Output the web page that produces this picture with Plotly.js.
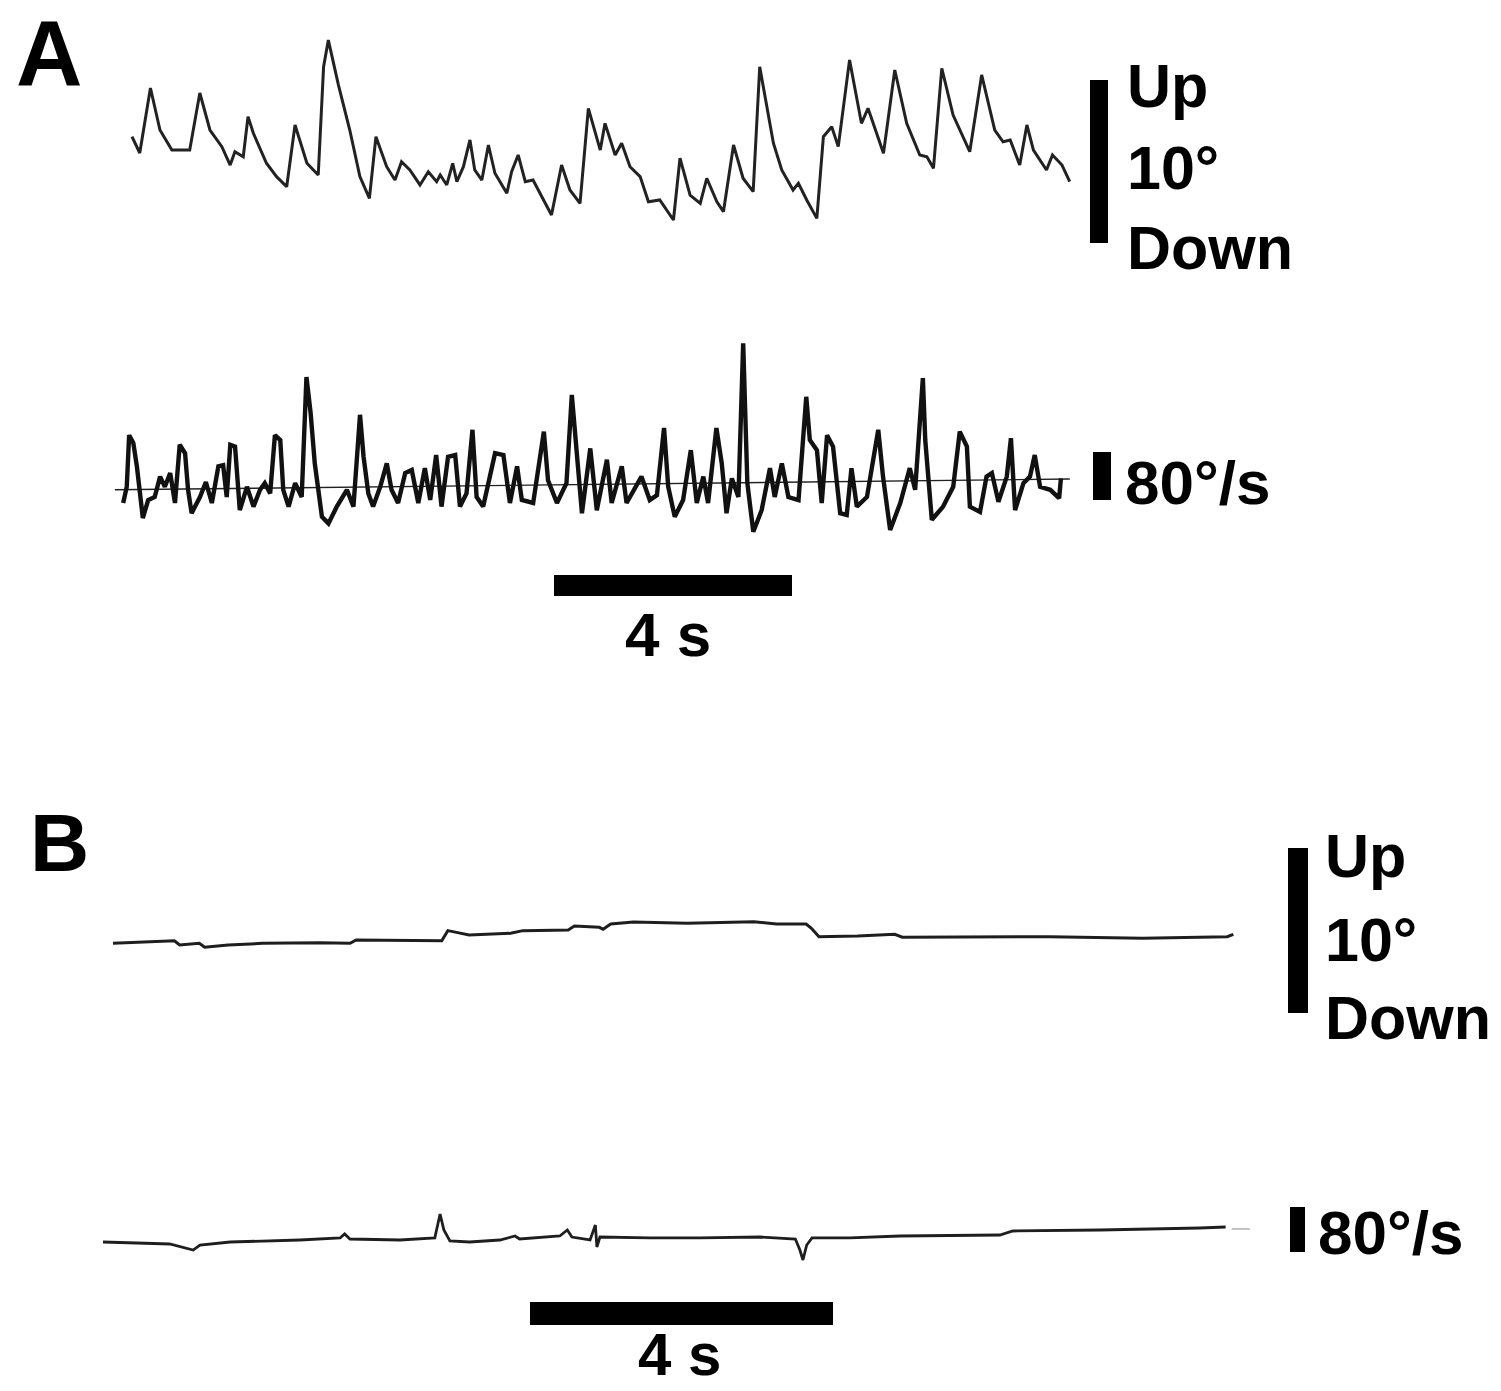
<!DOCTYPE html>
<html><head><meta charset="utf-8">
<script src="https://cdn.plot.ly/plotly-3.0.1.min.js"></script>
<style>html,body{margin:0;padding:0;background:#fff}#chart{width:1501px;height:1391px}</style>
</head><body><div id="chart"></div>
<script>
// ---------- DATA ----------
// Panel A, vertical eye position (time s, degrees)
const aPosT = [0.00,0.13,0.31,0.47,0.67,0.97,1.14,1.31,1.51,1.65,
  1.73,1.87,1.95,2.04,2.26,2.43,2.60,2.74,2.94,3.13,
  3.22,3.30,3.47,3.66,3.83,3.99,4.10,4.28,4.42,4.53,
  4.67,4.84,4.98,5.12,5.18,5.29,5.39,5.46,5.57,5.68,
  5.76,5.88,5.99,6.10,6.30,6.38,6.49,6.61,6.74,6.91,
  7.05,7.22,7.36,7.53,7.67,7.87,7.95,8.12,8.23,8.37,
  8.54,8.68,8.87,9.10,9.21,9.38,9.55,9.66,9.83,9.94,
  10.11,10.27,10.44,10.55,10.78,10.92,11.11,11.20,11.34,11.51,
  11.62,11.76,11.87,12.06,12.26,12.37,12.63,12.82,13.02,13.24,
  13.36,13.47,13.61,13.80,14.08,14.28,14.50,14.64,14.76,14.92,
  15.04,15.15,15.37,15.47,15.63,15.76];
const aPosDeg = [5.11,4.11,8.10,5.52,4.29,4.29,7.79,5.52,4.50,3.37,
  4.19,3.88,6.34,5.32,3.48,2.66,2.04,5.83,3.48,2.76,
  9.40,11.04,8.28,5.52,2.66,1.33,5.11,3.27,2.45,3.58,
  3.07,2.15,2.96,2.35,2.76,2.15,3.48,2.35,3.27,4.91,
  3.07,2.45,4.60,2.87,1.64,2.96,3.99,2.35,2.45,1.23,
  0.31,3.37,1.84,1.02,6.85,4.29,5.93,3.99,4.71,3.27,
  2.66,1.12,1.23,0.00,3.79,1.53,1.02,2.56,1.12,0.51,
  4.60,2.56,1.74,9.40,4.71,3.07,1.84,2.25,1.23,0.10,
  5.11,5.72,4.50,9.82,5.93,6.85,4.09,9.20,5.93,3.99,
  3.88,3.17,9.31,6.44,4.19,8.90,5.52,4.80,4.91,3.37,
  5.83,4.29,3.07,3.99,3.37,2.35];

// Panel A, eye velocity (time s, deg/s)
const aVelT = [0.02,0.08,0.12,0.19,0.25,0.30,0.35,0.44,0.55,0.64,
  0.72,0.81,0.89,0.97,1.06,1.11,1.17,1.31,1.41,1.51,
  1.62,1.70,1.76,1.82,1.90,1.98,2.10,2.21,2.32,2.40,
  2.49,2.57,2.66,2.71,2.80,2.91,3.02,3.10,3.17,3.24,
  3.36,3.47,3.61,3.78,3.89,4.00,4.06,4.14,4.22,4.34,
  4.45,4.53,4.64,4.76,4.87,4.98,5.09,5.18,5.28,5.37,
  5.48,5.60,5.68,5.79,5.89,5.96,6.07,6.27,6.41,6.52,
  6.64,6.72,6.91,7.09,7.16,7.31,7.47,7.56,7.61,7.73,
  7.87,7.98,8.15,8.23,8.40,8.48,8.73,8.87,8.99,9.11,
  9.18,9.29,9.43,9.56,9.66,9.77,9.85,9.99,10.08,10.16,
  10.25,10.36,10.44,10.51,10.61,10.75,10.89,10.97,11.09,11.20,
  11.37,11.50,11.56,11.68,11.76,11.85,11.95,12.07,12.18,12.26,
  12.35,12.52,12.71,12.79,12.91,13.08,13.24,13.33,13.46,13.50,
  13.61,13.80,13.97,14.08,14.20,14.25,14.42,14.53,14.62,14.73,
  14.87,14.94,15.01,15.15,15.26,15.34,15.43,15.60,15.75,15.78];
const aVelDps = [-25,2,88,75,36,-3,-50,-20,-15,19,
  2,25,-25,72,58,-3,-42,-15,10,-25,
  36,38,-15,72,69,-37,2,-31,-3,8,
  -9,88,80,-3,-31,8,-15,185,125,41,
  -48,-59,-31,-3,-31,122,52,-9,-31,2,
  41,-3,-25,25,30,-25,33,-20,55,-31,
  52,55,-31,-9,97,-15,-31,58,55,-25,
  36,-20,-25,94,13,-25,8,155,97,-42,
  66,-37,47,-25,36,-25,19,-20,-12,100,
  2,-48,-20,63,-25,19,-25,100,41,-42,
  16,-15,241,8,-73,-37,33,-15,41,-15,
  -20,152,80,63,-25,88,69,-42,-45,33,
  -31,-15,97,19,-70,-25,33,-3,183,80,
  -53,-31,2,94,69,-31,-40,19,25,-23,
  19,83,-37,8,19,55,2,-3,-17,16];
// Panel A zero-velocity reference line (slightly tilted in the scan)
const aBaseT = [-0.12, 15.93];
const aBaseDps = [-3, 15];

// Panel B, vertical eye position (time s, degrees)
const bPosT = [0.00,0.81,0.88,1.14,1.21,1.52,1.97,2.73,3.13,3.21,
  4.34,4.42,4.55,4.70,5.25,5.41,6.01,6.09,6.42,6.47,
  6.57,6.87,7.58,8.46,8.76,9.15,9.22,9.32,9.83,10.32,
  10.42,11.39,12.37,13.59,14.71,14.79];
const bPosDeg = [0.10,0.26,0.00,0.10,-0.14,0.00,0.10,0.14,0.10,0.30,
  0.26,0.87,0.75,0.61,0.71,0.87,0.91,1.15,1.07,0.95,
  1.27,1.39,1.32,1.41,1.27,1.27,1.01,0.50,0.55,0.65,
  0.47,0.50,0.50,0.41,0.50,0.65];

// Panel B, eye velocity (time s, deg/s)
const bVelT = [0.00,0.62,0.88,1.19,1.28,1.68,2.60,3.13,3.19,3.26,
  3.92,4.38,4.45,4.50,4.58,4.84,5.24,5.44,5.50,6.03,
  6.13,6.19,6.43,6.50,6.52,6.56,7.22,7.88,8.67,9.14,
  9.20,9.24,9.29,9.36,9.86,10.52,11.84,12.01,13.16,14.48,14.82];
const bVelDps = [-3.6,-5.3,-7.1,-17.8,-8.9,-3.6,0,3.6,10.7,1.8,
  0,3.6,46.2,17.8,-1.8,-3.6,0,7.1,1.8,7.1,
  17.8,5.3,0,26.7,-12.4,5.3,3.6,3.6,5.3,1.8,
  -17.8,-35.6,-8.9,3.6,3.6,7.1,8.9,16.0,17.8,21.3,23.1];
const bTailT = [14.90, 15.14];
const bTailDps = [19.6, 19.6];

// Scale bars and labels
const scaleTimeS = 4;
const scalePosDeg = 10;
const scaleVelDps = 80;
const panelLabels = ['A', 'B'];
const posScaleLabels = ['Up', '10°', 'Down'];
const velScaleLabel = '80°/s';
const timeScaleLabel = '4 s';

// ---------- LAYOUT GEOMETRY ----------
const W = 1501, H = 1391;
const G = {
  aPosX: {p0:100, p1:1130, origin:132, ppu:59.5},
  aPosY: {p0:20,  p1:270,  zero:220,  ppu:16.3},
  aVelX: {p0:100, p1:1130, origin:122, ppu:59.5},
  aVelY: {p0:300, p1:620,  zero:488,  ppu:0.6},
  bPosX: {p0:90,  p1:1320, origin:113, ppu:75.75},
  bPosY: {p0:820, p1:1030, zero:945,  ppu:16.5},
  bVelX: {p0:90,  p1:1320, origin:103, ppu:75.75},
  bVelY: {p0:1180,p1:1340, zero:1240, ppu:0.5625}
};
function xAx(g, anchor){return {domain:[g.p0/W, g.p1/W], range:[(g.p0-g.origin)/g.ppu,(g.p1-g.origin)/g.ppu], visible:false, fixedrange:true, anchor:anchor};}
function yAx(g, anchor){return {domain:[1-g.p1/H, 1-g.p0/H], range:[(g.zero-g.p1)/g.ppu,(g.zero-g.p0)/g.ppu], visible:false, fixedrange:true, anchor:anchor};}
function xv(g, px){return (px-g.origin)/g.ppu;}
function yv(g, py){return (g.zero-py)/g.ppu;}
const PX = x => x/W, PY = y => 1 - y/H;

const traces = [
  {x:aPosT, y:aPosDeg, xaxis:'x', yaxis:'y', mode:'lines', line:{color:'#222', width:3}},
  {x:aBaseT, y:aBaseDps, xaxis:'x2', yaxis:'y2', mode:'lines', line:{color:'#222', width:1.4}},
  {x:aVelT, y:aVelDps, xaxis:'x2', yaxis:'y2', mode:'lines', line:{color:'#111', width:4.4}},
  {x:bPosT, y:bPosDeg, xaxis:'x3', yaxis:'y3', mode:'lines', line:{color:'#1e1e1e', width:3}},
  {x:bVelT, y:bVelDps, xaxis:'x4', yaxis:'y4', mode:'lines', line:{color:'#1e1e1e', width:2.8}},
  {x:bTailT, y:bTailDps, xaxis:'x4', yaxis:'y4', mode:'lines', line:{color:'#888', width:1}}
];

const bar = (o) => Object.assign({type:'rect', fillcolor:'#000', line:{width:0}}, o);
const aPosTop = yv(G.aPosY, 80), aVelTop = yv(G.aVelY, 452);
const bPosTop = yv(G.bPosY, 848), bVelTop = yv(G.bVelY, 1207);
const aTimeStart = xv(G.aVelX, 554), bTimeStart = xv(G.bVelX, 530);
const shapes = [
  bar({xref:'paper', yref:'y',  x0:PX(1090), x1:PX(1108), y0:aPosTop, y1:aPosTop-scalePosDeg}),
  bar({xref:'paper', yref:'y2', x0:PX(1093), x1:PX(1111), y0:aVelTop, y1:aVelTop-scaleVelDps}),
  bar({xref:'x2', yref:'paper', x0:aTimeStart, x1:aTimeStart+scaleTimeS, y0:PY(575), y1:PY(596)}),
  bar({xref:'paper', yref:'y3', x0:PX(1288), x1:PX(1308), y0:bPosTop, y1:bPosTop-scalePosDeg}),
  bar({xref:'paper', yref:'y4', x0:PX(1290), x1:PX(1305), y0:bVelTop, y1:bVelTop-scaleVelDps}),
  bar({xref:'x4', yref:'paper', x0:bTimeStart, x1:bTimeStart+scaleTimeS, y0:PY(1302), y1:PY(1325)})
];

const FONT = 'Liberation Sans, Arial, Helvetica, sans-serif';
const ann = (text, x, y, size, xanchor, yanchor) => ({text:text, xref:'paper', yref:'paper', x:PX(x), y:PY(y),
  xanchor:xanchor||'left', yanchor:yanchor||'middle', showarrow:false,
  font:{family:FONT, size:size, color:'#000', weight:'bold'}});
const annotations = [
  ann(panelLabels[0], 14, 0, 92, 'left', 'top'),
  ann(panelLabels[1], 28, 842, 82),
  ann(posScaleLabels[0], 1125, 86, 61),
  ann(posScaleLabels[1], 1125, 168, 61),
  ann(posScaleLabels[2], 1125, 248, 61),
  ann(velScaleLabel, 1123, 483, 62),
  ann(timeScaleLabel, 668, 634, 62, 'center'),
  ann(posScaleLabels[0], 1323, 856, 61),
  ann(posScaleLabels[1], 1323, 940, 61),
  ann(posScaleLabels[2], 1323, 1018, 61),
  ann(velScaleLabel, 1316, 1232, 62),
  ann(timeScaleLabel, 679, 1390, 60, 'center', 'bottom')
];

const layout = {
  width: W, height: H, margin:{l:0, r:0, t:0, b:0},
  paper_bgcolor:'#ffffff', plot_bgcolor:'rgba(0,0,0,0)', showlegend:false,
  xaxis: xAx(G.aPosX, 'y'),  yaxis: yAx(G.aPosY, 'x'),
  xaxis2: xAx(G.aVelX, 'y2'), yaxis2: yAx(G.aVelY, 'x2'),
  xaxis3: xAx(G.bPosX, 'y3'), yaxis3: yAx(G.bPosY, 'x3'),
  xaxis4: xAx(G.bVelX, 'y4'), yaxis4: yAx(G.bVelY, 'x4'),
  shapes: shapes, annotations: annotations
};
Plotly.newPlot('chart', traces, layout, {staticPlot:true, displayModeBar:false});
</script>
</body></html>
